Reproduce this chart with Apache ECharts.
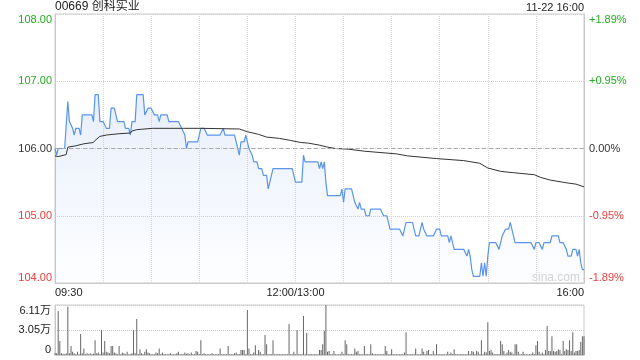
<!DOCTYPE html>
<html><head><meta charset="utf-8">
<script src="https://cdn.jsdelivr.net/npm/echarts@6/dist/echarts.min.js"></script>
<style>html,body{margin:0;padding:0;background:#fff}#c{width:640px;height:360px}</style>
</head><body><div id="c"></div>
<script>
const title = '00669 创科实业';
const dateText = '11-22 16:00';
const watermark = 'sina.com';
const prevClose = 106.0;
const priceMin = 104, priceMax = 108;
const priceLabels = ['104.00','105.00','106.00','107.00','108.00'];
const pctLabels = ['-1.89%','-0.95%','0.00%','+0.95%','+1.89%'];
const timeTickMinutes = [0,150,330];
const timeLabels = ['09:30','12:00/13:00','16:00'];
const volTickLabels = ['0','3.05万','6.11万'];
const volMax = 61100;

const price = [
106.0,105.9,106.0,106.0,106.0,106.0,106.0,106.0,106.7,106.4,
106.4,106.3,106.2,106.3,106.3,106.3,106.2,106.5,106.5,106.5,
106.5,106.5,106.5,106.5,106.4,106.8,106.8,106.8,106.4,106.4,
106.4,106.4,106.3,106.3,106.3,106.6,106.6,106.6,106.6,106.4,
106.4,106.4,106.4,106.4,106.3,106.3,106.3,106.2,106.4,106.4,
106.4,106.8,106.8,106.8,106.8,106.8,106.5,106.5,106.6,106.6,
106.6,106.6,106.5,106.5,106.5,106.4,106.5,106.5,106.5,106.5,
106.5,106.4,106.4,106.4,106.4,106.4,106.4,106.4,106.4,106.3,
106.3,106.2,106.0,106.1,106.1,106.1,106.1,106.1,106.1,106.1,
106.1,106.3,106.3,106.3,106.3,106.2,106.2,106.2,106.2,106.2,
106.2,106.2,106.2,106.2,106.2,106.3,106.2,106.2,106.2,106.2,
106.2,106.2,106.2,106.2,106.0,105.9,106.1,106.1,106.1,106.2,
106.1,106.0,106.0,105.9,105.8,105.8,105.8,105.7,105.7,105.7,
105.6,105.6,105.6,105.4,105.5,105.6,105.7,105.7,105.7,105.7,
105.7,105.7,105.7,105.7,105.7,105.7,105.7,105.7,105.7,105.6,
105.5,105.5,105.5,105.5,105.5,105.9,105.8,105.8,105.8,105.8,
105.8,105.8,105.8,105.8,105.8,105.7,105.8,105.7,105.8,105.5,
105.3,105.3,105.3,105.3,105.3,105.3,105.3,105.3,105.3,105.4,
105.2,105.4,105.4,105.4,105.4,105.4,105.3,105.2,105.2,105.1,
105.2,105.1,105.1,105.1,105.0,105.0,105.0,105.1,105.1,105.1,
105.1,105.1,105.1,105.1,105.1,105.0,105.0,105.0,104.9,104.8,
104.8,104.8,104.8,104.8,104.8,104.8,104.8,104.7,104.8,104.9,
104.9,104.9,104.9,104.9,104.9,104.7,104.7,104.7,104.7,104.9,
104.8,104.8,104.7,104.7,104.7,104.7,104.7,104.7,104.8,104.8,
104.8,104.7,104.7,104.7,104.7,104.7,104.6,104.7,104.7,104.5,
104.5,104.5,104.5,104.5,104.5,104.5,104.5,104.4,104.5,104.4,
104.2,104.1,104.1,104.1,104.1,104.1,104.3,104.1,104.3,104.1,
104.4,104.6,104.6,104.6,104.6,104.6,104.6,104.5,104.6,104.7,
104.7,104.8,104.8,104.8,104.9,104.9,104.7,104.6,104.6,104.6,
104.6,104.6,104.6,104.6,104.6,104.6,104.6,104.6,104.6,104.5,
104.6,104.6,104.6,104.6,104.5,104.6,104.6,104.6,104.6,104.6,
104.7,104.7,104.7,104.7,104.7,104.6,104.6,104.6,104.6,104.5,
104.4,104.4,104.4,104.5,104.5,104.5,104.4,104.5,104.3,104.2,
104.2
];

const avgMinutes = [0,2,7,8,13,18,24,25,28,32,40,47,48,51,61,80,91,115,120,127,132,140,147,153,158,165,170,175,183,193,213,220,238,255,265,270,278,286,299,303,309,319,325,330];
const avgValues  = [105.89,105.88,105.91,106.02,106.04,106.07,106.09,106.12,106.18,106.20,106.22,106.23,106.26,106.28,106.30,106.30,106.30,106.29,106.25,106.21,106.17,106.15,106.12,106.09,106.08,106.05,106.02,106.00,105.99,105.96,105.92,105.89,105.85,105.82,105.78,105.71,105.66,105.64,105.61,105.57,105.53,105.49,105.47,105.43];

const volume = [
2000,2000,53800,17000,2000,1500,1000,2000,59000,2000,
11000,4000,2000,1000,4000,1000,25700,2000,8000,1000,
2000,1000,2000,1000,1500,18000,2000,3000,1000,30500,
3000,17000,4000,3000,2000,11000,11000,3000,2000,1000,
11000,1000,3000,2000,1000,4000,1000,1000,2000,30500,
2000,44000,1000,7000,2000,1000,4000,7000,3000,2000,
1000,1000,1000,3000,2000,8000,1000,3000,1000,1000,
1000,1000,2000,500,1000,1000,2000,4000,1000,1000,
1000,3000,1500,2000,1000,3000,1000,1000,5000,4000,
1000,18000,1000,2000,1000,1000,1000,1000,2000,1000,
1000,1000,1000,8000,1000,1000,1000,1000,11000,1000,
1000,1000,2000,3000,1000,1000,6000,6000,6000,1000,
55000,8000,1000,1000,3000,12000,1000,6000,4000,1000,
1000,24500,13000,1000,1000,1000,18000,1000,1000,1000,
1000,1000,1000,1000,1000,1000,38000,1000,1000,4000,
1000,30500,1000,1000,1000,47600,1000,27000,1000,1000,
1000,1000,1000,1000,1000,6000,6000,13000,29700,61000,
4000,5000,1000,1000,5000,1000,1000,1000,1000,4000,
1000,18000,13000,1000,1000,1000,1000,8000,4000,5000,
1000,1000,1000,11000,1000,1000,1000,13000,2000,1000,
1000,1000,1000,1000,1000,1000,11000,5000,1000,1000,
7000,1000,1000,1000,1000,1000,1000,1000,3000,27700,
1000,1000,1000,1000,1000,8000,1000,1000,1000,8000,
4000,1000,5000,6000,1000,1000,5000,1000,13000,1000,
1000,1000,1000,1000,1000,4000,1000,3000,1000,7000,
1000,1000,1000,1000,1000,1000,1000,1000,5000,1000,
5000,4000,1000,5000,4000,1000,18000,1000,4000,3000,
40000,5000,6000,3000,1000,1000,1000,1000,17000,13000,
5000,1000,3000,6000,4000,3000,1000,13000,13000,4000,
1000,1000,4000,1000,1000,1000,1000,1000,3000,1000,
12000,17000,4000,1000,3000,1000,6000,35400,5000,5000,
23000,5000,4000,5000,7000,6000,1000,17000,5000,7000,
6000,18000,5000,27700,3000,5000,5000,6000,16000,23000,
23000
];

const FONT = 'Arial, "Liberation Sans", "Noto Sans CJK SC", sans-serif';
const GREEN = '#1fae1f', RED = '#ee3b3b', DARK = '#333';
const colorFor = v => v > prevClose + 1e-9 ? GREEN : (v < prevClose - 1e-9 ? RED : DARK);
const idxOf = v => Math.round(v - priceMin);

const chart = echarts.init(document.getElementById('c'), null, {renderer: 'canvas'});
chart.setOption({
  animation: false,
  textStyle: {fontFamily: FONT},
  graphic: [
    {type: 'text', left: 55, top: 1, style: {text: title, font: '12px ' + FONT, fill: '#222'}},
    {type: 'text', right: 56, top: 2, style: {text: dateText, font: '11px ' + FONT, fill: '#222'}},
    {type: 'text', left: 532, top: 272, style: {text: watermark, font: '12px ' + FONT, fill: '#d4d4d4'}}
  ],
  grid: [
    {left: 55, right: 56, top: 14, height: 269, show: true, borderColor: '#ccc', borderWidth: 1},
    {left: 55, right: 56, top: 305, height: 50, show: true, borderColor: '#ccc', borderWidth: 1}
  ],
  xAxis: [
    {type: 'value', gridIndex: 0, min: 0, max: 330, interval: 30,
     axisLine: {show: true, lineStyle: {color: '#ccc'}}, axisTick: {show: false},
     splitLine: {show: true, lineStyle: {color: '#d8d8d8', type: 'dotted'}},
     axisLabel: {show: true, color: '#222', fontSize: 11, margin: 4, fontFamily: FONT,
       showMinLabel: true, showMaxLabel: true, alignMinLabel: 'left', alignMaxLabel: 'right',
       formatter: v => { const k = timeTickMinutes.indexOf(Math.round(v)); return k >= 0 ? timeLabels[k] : ''; }}},
    {type: 'value', gridIndex: 1, min: 0, max: 330, interval: 30,
     axisLine: {show: true, lineStyle: {color: '#ccc'}}, axisTick: {show: false},
     splitLine: {show: false}, axisLabel: {show: false}}
  ],
  yAxis: [
    {type: 'value', gridIndex: 0, position: 'left', min: priceMin, max: priceMax, interval: 1,
     axisLine: {show: true, lineStyle: {color: '#c8c8c8'}}, axisTick: {show: false},
     splitLine: {show: true, lineStyle: {color: '#d0d0d0', type: 'dotted'}},
     axisLabel: {fontSize: 11, margin: 3, fontFamily: FONT,
       verticalAlignMinLabel: 'bottom', verticalAlignMaxLabel: 'top',
       color: v => colorFor(v), formatter: v => priceLabels[idxOf(v)]}},
    {type: 'value', gridIndex: 0, position: 'right', min: priceMin, max: priceMax, interval: 1,
     axisLine: {show: true, lineStyle: {color: '#c8c8c8'}}, axisTick: {show: false},
     splitLine: {show: false},
     axisLabel: {fontSize: 11, margin: 5, fontFamily: FONT,
       verticalAlignMinLabel: 'bottom', verticalAlignMaxLabel: 'top',
       color: v => colorFor(v), formatter: v => pctLabels[idxOf(v)]}},
    {type: 'value', gridIndex: 1, min: 0, max: volMax, interval: volMax / 2,
     axisLine: {show: true, lineStyle: {color: '#c8c8c8'}}, axisTick: {show: false},
     splitLine: {show: true, lineStyle: {color: '#c8c8c8', type: 'dotted'}},
     axisLabel: {fontSize: 11, margin: 4, color: '#222', fontFamily: FONT,
       verticalAlignMinLabel: 'bottom', verticalAlignMaxLabel: 'top',
       formatter: v => volTickLabels[Math.round(v / (volMax / 2))]}}
  ],
  series: [
    {type: 'line', xAxisIndex: 0, yAxisIndex: 0, showSymbol: false, silent: true,
     data: price.map((p, i) => [i, p]),
     lineStyle: {color: '#5a95ea', width: 1.2},
     areaStyle: {origin: 'start', color: new echarts.graphic.LinearGradient(0, 0, 0, 1, [
       {offset: 0, color: 'rgba(90,140,230,0.20)'}, {offset: 1, color: 'rgba(90,140,230,0.01)'}])},
     markLine: {silent: true, symbol: 'none', label: {show: false},
       lineStyle: {color: '#aaa', type: [4, 3], width: 1},
       data: [{yAxis: prevClose}]}},
    {type: 'line', xAxisIndex: 0, yAxisIndex: 0, showSymbol: false, silent: true,
     data: avgMinutes.map((m, i) => [m, avgValues[i]]),
     lineStyle: {color: '#333', width: 1}},
    {type: 'bar', xAxisIndex: 1, yAxisIndex: 2, silent: true, barWidth: 1,
     data: volume.map((v, i) => [i, v]),
     itemStyle: {color: '#666'}}
  ]
});
</script></body></html>
